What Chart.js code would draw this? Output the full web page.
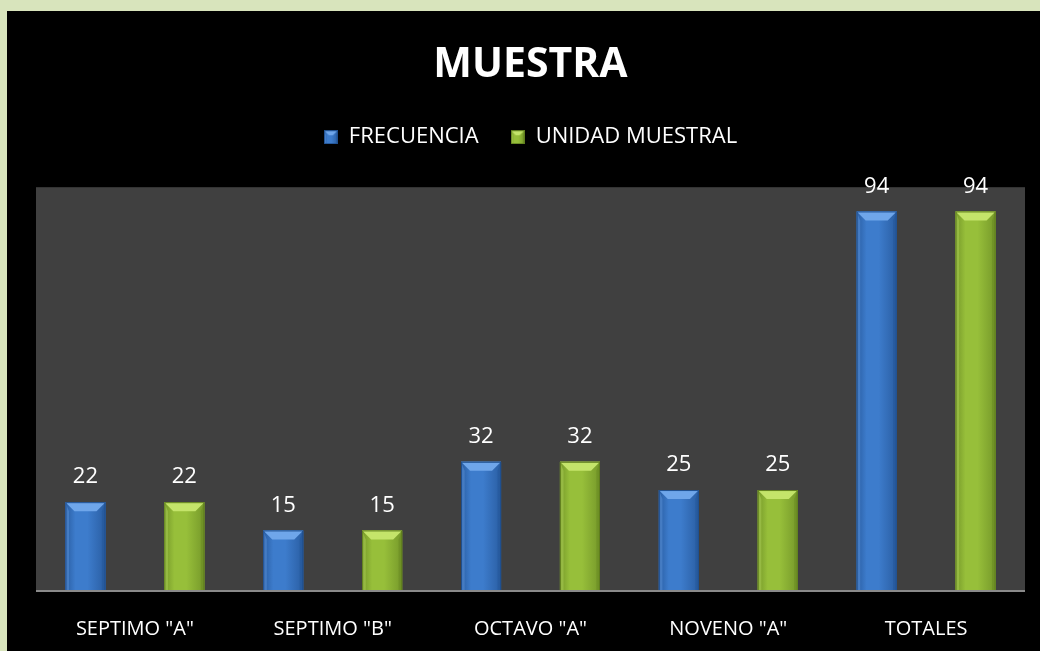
<!DOCTYPE html>
<html>
<head>
<meta charset="utf-8">
<script src="https://cdn.jsdelivr.net/npm/chart.js@4/dist/chart.umd.min.js"></script>
<style>
html,body{margin:0;padding:0;background:#d8e4bc;}
#wrap{position:absolute;left:0;top:0;width:1040px;height:651px;}
</style>
</head>
<body>
<div id="wrap"><canvas id="c" width="1040" height="651"></canvas></div>
<script>
const categories = ['SEPTIMO "A"', 'SEPTIMO "B"', 'OCTAVO "A"', 'NOVENO "A"', 'TOTALES'];
const frecuencia = [22, 15, 32, 25, 94];
const unidadMuestral = [22, 15, 32, 25, 94];
const seriesNames = ['FRECUENCIA', 'UNIDAD MUESTRAL'];
const chartTitle = 'MUESTRA';

const FONT = '"Open Sans", "Liberation Sans", sans-serif';
const palette = [
  {base: '#3d7ccc', light: '#6fa6ea', dark: '#2a5ea3', edge: '#1f4f8e'},
  {base: '#97bf3a', light: '#c4e46a', dark: '#76992a', edge: '#5f7d1e'}
];

function bevelBox(ctx, l, t, w, h, b, p) {
  const r = l + w, bt = t + h;
  const g = ctx.createLinearGradient(l, 0, r, 0);
  g.addColorStop(0, p.dark);
  g.addColorStop(0.25, p.base);
  g.addColorStop(0.55, p.base);
  g.addColorStop(1, p.dark);
  ctx.fillStyle = g;
  ctx.fillRect(l, t, w, h);
  ctx.fillStyle = p.light;
  ctx.beginPath();
  ctx.moveTo(l, t); ctx.lineTo(r, t); ctx.lineTo(r - b, t + b); ctx.lineTo(l + b, t + b); ctx.closePath();
  ctx.fill();
  ctx.globalAlpha = 0.35;
  ctx.fillStyle = p.light;
  ctx.beginPath();
  ctx.moveTo(l, t); ctx.lineTo(l + b * 0.4, t + b); ctx.lineTo(l + b * 0.4, bt); ctx.lineTo(l, bt); ctx.closePath();
  ctx.fill();
  ctx.fillStyle = p.edge;
  ctx.beginPath();
  ctx.moveTo(r, t); ctx.lineTo(r - b * 0.4, t + b); ctx.lineTo(r - b * 0.4, bt); ctx.lineTo(r, bt); ctx.closePath();
  ctx.fill();
  ctx.globalAlpha = 1;
  ctx.strokeStyle = p.edge;
  ctx.lineWidth = 1;
  ctx.strokeRect(l + 0.5, t + 0.5, w - 1, h - 1);
}

function legendIcon(p) {
  const cv = document.createElement('canvas');
  cv.width = 14; cv.height = 14;
  bevelBox(cv.getContext('2d'), 0, 0, 14, 14, 5, p);
  return cv;
}
const icons = palette.map(legendIcon);

const bgPlugin = {
  id: 'bg',
  beforeInit(chart) {
    const lg = chart.legend;
    if (lg) {
      const orig = lg.fit;
      lg.fit = function () { orig.call(this); this.height += 29; };
    }
  },
  beforeDraw(chart) {
    const {ctx, chartArea: a} = chart;
    ctx.save();
    ctx.fillStyle = '#d8e4bc';
    ctx.fillRect(0, 0, chart.width, chart.height);
    ctx.fillStyle = '#000000';
    ctx.fillRect(7, 11, chart.width - 7, chart.height - 11);
    ctx.fillStyle = '#404040';
    ctx.fillRect(a.left, a.top, a.right - a.left, a.bottom - a.top);
    ctx.restore();
  }
};

const bevelPlugin = {
  id: 'bevel',
  afterDatasetsDraw(chart) {
    const ctx = chart.ctx;
    ctx.save();
    chart.data.datasets.forEach((ds, di) => {
      const meta = chart.getDatasetMeta(di);
      meta.data.forEach((el, i) => {
        const w = el.width, l = el.x - w / 2, t = el.y, h = el.base - el.y;
        bevelBox(ctx, l, t, w, h, 9, palette[di]);
        ctx.fillStyle = '#ffffff';
        ctx.font = '22px ' + FONT;
        ctx.textAlign = 'center';
        ctx.textBaseline = 'middle';
        ctx.fillText(String(ds.data[i]), el.x, el.y - 25);
      });
    });
    const a = chart.chartArea;
    ctx.strokeStyle = '#8a8a8a';
    ctx.lineWidth = 2;
    ctx.beginPath();
    ctx.moveTo(a.left, a.bottom); ctx.lineTo(a.right, a.bottom);
    ctx.stroke();
    ctx.restore();
  }
};

new Chart(document.getElementById('c'), {
  type: 'bar',
  data: {
    labels: categories,
    datasets: [
      {label: seriesNames[0], data: frecuencia, backgroundColor: palette[0].base},
      {label: seriesNames[1], data: unidadMuestral, backgroundColor: palette[1].base}
    ]
  },
  options: {
    responsive: false,
    animation: false,
    devicePixelRatio: 1,
    categoryPercentage: 1.0,
    barPercentage: 0.405,
    layout: {padding: {left: 36, right: 15, top: 31, bottom: 0}},
    plugins: {
      title: {
        display: true, text: chartTitle, color: '#ffffff',
        font: {family: FONT, size: 41, weight: 'bold'},
        padding: {top: 10, bottom: 4}
      },
      legend: {
        display: true, position: 'top',
        labels: {
          color: '#ffffff', font: {family: FONT, size: 22},
          usePointStyle: true, boxWidth: 14, boxHeight: 14, padding: 32,
          generateLabels(chart) {
            return chart.data.datasets.map((ds, i) => ({
              text: ds.label, fillStyle: palette[i].base, strokeStyle: palette[i].base,
              pointStyle: icons[i], datasetIndex: i, hidden: false, lineWidth: 0, fontColor: '#ffffff'
            }));
          }
        }
      },
      tooltip: {enabled: false}
    },
    scales: {
      x: {
        grid: {display: false, drawTicks: false},
        border: {display: false},
        ticks: {color: '#ffffff', font: {family: FONT, size: 20}, padding: 26},
        afterFit(scale) { scale.height = 60; }
      },
      y: {display: false, min: 0, max: 100}
    }
  },
  plugins: [bgPlugin, bevelPlugin]
});
</script>
</body>
</html>
